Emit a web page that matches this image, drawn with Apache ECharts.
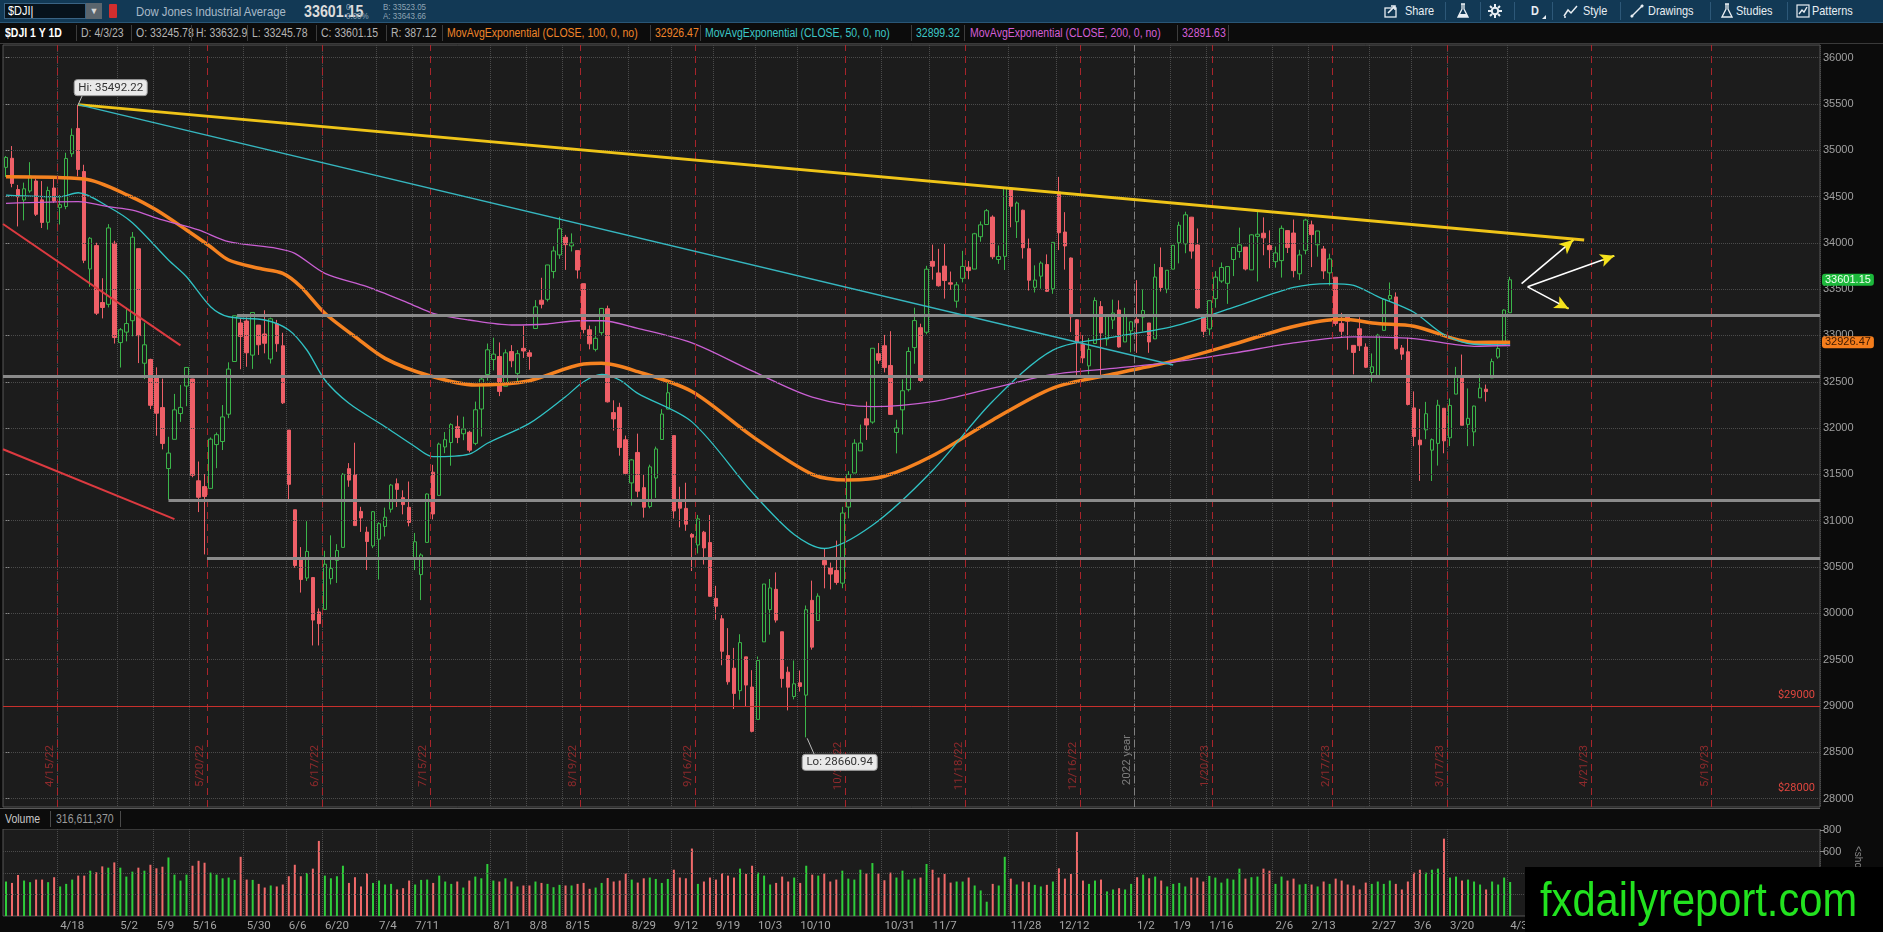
<!DOCTYPE html>
<html>
<head>
<meta charset="utf-8">
<title>$DJI 1 Y 1D</title>
<script src="https://cdn.jsdelivr.net/npm/echarts@6.0.0/dist/echarts.min.js"></script>
<style>
  html, body { margin: 0; padding: 0; width: 1883px; height: 932px; overflow: hidden; background: #0b0b0b; }
  body { font-family: "Liberation Sans", Arial, sans-serif; }
  #chart { position: absolute; left: 0; top: 0; width: 1883px; height: 932px; }
  .abs { position: absolute; white-space: nowrap; }
  .n { position: absolute; white-space: nowrap; transform: scaleX(0.84); transform-origin: 0 50%; }
  #toolbar { position: absolute; left: 0; top: 0; width: 1883px; height: 23px; background: #123955; border-bottom: 1px solid #2a5676; box-sizing: border-box; color: #e4ecf2; }
  #toolbar .btn { top: 3px; font-size: 13px; line-height: 16px; color: #e8eef3; }
  #toolbar .sep { position: absolute; top: 2px; width: 1px; height: 18px; background: #2d5878; }
  #header { position: absolute; left: 0; top: 23px; width: 1883px; height: 21px; background: #0c0c0c; border-bottom: 1px solid #3a3a3a; box-sizing: border-box; font-size: 12.5px; line-height: 20px; color: #b4b4b4; }
  #header .sep { position: absolute; top: 2px; width: 1px; height: 16px; background: #3d3d3d; }
  #volhdr { position: absolute; left: 0; top: 808px; width: 1820px; height: 21px; background: #0c0c0c; border-top: 1px solid #5a5a5a; box-sizing: border-box; font-size: 12.5px; line-height: 20px; color: #c8c8c8; }
  #wm { position: absolute; left: 1525px; top: 867px; width: 358px; height: 65px; background: #000; overflow: hidden; }
  #wm span { position: absolute; left: 15px; top: 8px; font-size: 49px; line-height: 49px; color: #22e21f; white-space: nowrap; transform: scaleX(0.85); transform-origin: 0 50%; }
</style>
</head>
<body>
<div id="chart"></div>

<div id="toolbar">
  <div class="abs" style="left:4px;top:3px;width:82px;height:16px;background:#07121b;border:1px solid #3a6383;box-sizing:border-box;"></div>
  <div class="n" style="left:8px;top:3px;font-size:13px;line-height:16px;color:#fff;">$DJI|</div>
  <div class="abs" style="left:86px;top:3px;width:16px;height:16px;background:#5b656d;color:#d8d8d8;font-size:9px;line-height:16px;text-align:center;">&#9660;</div>
  <div class="abs" style="left:109px;top:4px;width:8px;height:14px;background:#d22e2e;border-radius:1px;"></div>
  <div class="n" style="left:136px;top:3px;font-size:13.5px;line-height:17px;color:#a9bac8;">Dow Jones Industrial Average</div>
  <div class="n" style="left:304px;top:1px;font-size:17px;line-height:21px;font-weight:bold;color:#dcdcdc;">33601.15</div>
  <div class="n" style="left:346px;top:2px;font-size:9.5px;line-height:9px;color:#8fa4b4;">0<br>0.00%</div>
  <div class="n" style="left:383px;top:2px;font-size:9.5px;line-height:9px;color:#8fa4b4;">B: 33523.05<br>A: 33643.66</div>

  <svg class="abs" style="left:1384px;top:4px" width="16" height="14" viewBox="0 0 16 14"><rect x="1" y="4" width="11" height="9" fill="none" stroke="#e8eef3" stroke-width="1.3"/><path d="M4 9 L10 3 M7 2 L11 2 L11 6" stroke="#e8eef3" stroke-width="1.6" fill="none"/></svg>
  <div class="n btn" style="left:1405px;">Share</div>
  <div class="sep" style="left:1445px;"></div>
  <svg class="abs" style="left:1457px;top:3px" width="12" height="16" viewBox="0 0 12 16"><path d="M4 1 L8 1 M5 1 L5 6 L1 14 L11 14 L7 6 L7 1" stroke="#e8eef3" stroke-width="1.3" fill="none"/><path d="M2.5 11 L9.5 11 L11 14 L1 14 Z" fill="#e8eef3"/></svg>
  <div class="sep" style="left:1480px;"></div>
  <svg class="abs" style="left:1488px;top:4px" width="14" height="14" viewBox="0 0 14 14"><circle cx="7" cy="7" r="3.2" fill="none" stroke="#e8eef3" stroke-width="2"/><path d="M7 0 L7 3 M7 11 L7 14 M0 7 L3 7 M11 7 L14 7 M2 2 L4 4 M10 10 L12 12 M12 2 L10 4 M4 10 L2 12" stroke="#e8eef3" stroke-width="2"/></svg>
  <div class="sep" style="left:1514px;"></div>
  <div class="n btn" style="left:1531px;font-weight:bold;">D</div>
  <div class="abs" style="left:1542px;top:15px;width:0;height:0;border-left:4px solid transparent;border-bottom:4px solid #e8eef3;"></div>
  <div class="sep" style="left:1552px;"></div>
  <svg class="abs" style="left:1563px;top:4px" width="16" height="14" viewBox="0 0 16 14"><path d="M1 12 L5 6 L8 9 L14 2" stroke="#e8eef3" stroke-width="1.5" fill="none"/><path d="M1 13 L3 13" stroke="#e8eef3" stroke-width="1.5"/></svg>
  <div class="n btn" style="left:1583px;">Style</div>
  <div class="sep" style="left:1620px;"></div>
  <svg class="abs" style="left:1630px;top:4px" width="14" height="14" viewBox="0 0 14 14"><path d="M1 13 L13 1" stroke="#e8eef3" stroke-width="1.5"/><circle cx="2" cy="12" r="1.5" fill="#e8eef3"/><circle cx="12" cy="2" r="1.5" fill="#e8eef3"/></svg>
  <div class="n btn" style="left:1648px;">Drawings</div>
  <div class="sep" style="left:1710px;"></div>
  <svg class="abs" style="left:1721px;top:3px" width="12" height="16" viewBox="0 0 12 16"><path d="M4 1 L8 1 M5 1 L5 6 L1 14 L11 14 L7 6 L7 1" stroke="#e8eef3" stroke-width="1.3" fill="none"/></svg>
  <div class="n btn" style="left:1736px;">Studies</div>
  <div class="sep" style="left:1787px;"></div>
  <svg class="abs" style="left:1796px;top:4px" width="14" height="14" viewBox="0 0 14 14"><rect x="1" y="1" width="12" height="12" fill="none" stroke="#e8eef3" stroke-width="1.2"/><path d="M3 10 L6 6 L8 8 L11 3" stroke="#e8eef3" stroke-width="1.4" fill="none"/></svg>
  <div class="n btn" style="left:1812px;">Patterns</div>
</div>

<div id="header">
  <div class="n" style="left:5px;color:#fff;font-weight:bold;">$DJI 1 Y 1D</div>
  <div class="sep" style="left:76px;"></div>
  <div class="n" style="left:81px;">D: 4/3/23</div>
  <div class="sep" style="left:131px;"></div>
  <div class="n" style="left:136px;">O: 33245.78</div>
  <div class="sep" style="left:191px;"></div>
  <div class="n" style="left:196px;">H: 33632.9</div>
  <div class="sep" style="left:247px;"></div>
  <div class="n" style="left:252px;">L: 33245.78</div>
  <div class="sep" style="left:316px;"></div>
  <div class="n" style="left:321px;">C: 33601.15</div>
  <div class="sep" style="left:386px;"></div>
  <div class="n" style="left:391px;">R: 387.12</div>
  <div class="sep" style="left:442px;"></div>
  <div class="n" style="left:447px;color:#f0852a;">MovAvgExponential (CLOSE, 100, 0, no)</div>
  <div class="sep" style="left:650px;"></div>
  <div class="n" style="left:655px;color:#f0852a;">32926.47</div>
  <div class="sep" style="left:700px;"></div>
  <div class="n" style="left:705px;color:#3cc7c7;">MovAvgExponential (CLOSE, 50, 0, no)</div>
  <div class="sep" style="left:911px;"></div>
  <div class="n" style="left:916px;color:#3cc7c7;">32899.32</div>
  <div class="sep" style="left:964px;"></div>
  <div class="n" style="left:970px;color:#d55fd6;">MovAvgExponential (CLOSE, 200, 0, no)</div>
  <div class="sep" style="left:1177px;"></div>
  <div class="n" style="left:1182px;color:#d55fd6;">32891.63</div>
  <div class="sep" style="left:1228px;"></div>
</div>

<div id="volhdr">
  <div class="n" style="left:5px;">Volume</div>
  <div class="abs" style="left:50px;top:2px;width:1px;height:16px;background:#4a4a4a;"></div>
  <div class="n" style="left:56px;color:#9a9a9a;">316,611,370</div>
  <div class="abs" style="left:120px;top:2px;width:1px;height:16px;background:#4a4a4a;"></div>
</div>
<div class="abs" style="left:1864px;top:846px;font-size:10px;color:#8a8a8a;transform:rotate(90deg);transform-origin:left top;">&lt;sho</div>
<div id="wm"><span>fxdailyreport.com</span></div>

<script>
// trading calendar, 4/4/22 onward (NYSE holidays in range)
const holidays = ['2022-04-15', '2022-05-30', '2022-06-20', '2022-07-04', '2022-09-05', '2022-11-24',
  '2022-12-26', '2023-01-02', '2023-01-16', '2023-02-20', '2023-04-07', '2023-05-29'];
const firstDay = '2022-04-04';
const slotCount = 302;   // 251 sessions + empty space on the right

// daily OHLC, $DJI
const opens = [34815,34913,34576,34463,34560,34668,34464,34222,34592,34380,
  34392,34962,35235,34770,33718,33970,33356,33336,33996,32923,
  33036,33159,33937,32700,32741,32556,32221,31563,31879,32157,
  32454,32530,31431,31368,31349,31822,31855,32150,32719,33135,
  33156,32788,33112,33016,32746,33125,32889,31978,31118,30588,
  30381,30386,30015,30042,30374,30571,30712,31562,31499,31100,
  30877,30728,30800,30938,31124,31399,31249,31144,30600,30418,
  30766,31524,31273,31796,31844,32014,31939,31955,31835,32206,
  32579,32740,32773,32451,32826,32591,32861,32813,33075,33381,
  33390,33690,33870,34060,33967,33916,33559,33062,32850,33030,
  33289,32167,32224,31874,31408,31737,31357,31153,31461,31877,
  32205,31919,31204,31133,30852,30738,30876,30764,30161,29941,
  29544,29408,29165,29530,29204,28855,29692,30040,30259,29801,
  29365,29102,29250,29117,30140,29922,30570,30492,30463,30326,
  31147,31515,31754,32100,32065,32803,32889,32676,31953,32197,
  32415,32869,33084,33035,33800,33675,33749,33569,33370,33617,
  33737,33717,34066,34198,34278,33820,33854,34579,34228,34352,
  33937,33520,33640,33766,33505,34550,34117,33836,33169,32903,
  32672,32913,33312,32960,33166,33275,32930,33050,33175,33198,
  33135,32963,33734,33499,33716,34001,33989,34277,33977,33212,
  33070,33397,33588,33563,33820,33906,33954,33708,34070,34104,
  33970,33797,33808,34132,34106,33666,33920,34194,33979,33934,
  33676,33629,33130,33216,32893,33072,32875,32600,32560,33055,
  33395,33416,32865,32824,32218,31870,31981,31762,31835,32214,
  31895,32367,32540,32040,31959,32327,32420,32542,32767,32900,
  33245.78];
const highs = [34938,35045,34625,34650,34871,34693,34667,34607,34718,34516,
  34973,35235,35492.22,34843,34063,34001,33618,34202,34023,33081,
  33299,34117,33937,33137,32749,32656,32534,31906,32369,32466,
  32657,32532,31639,31503,31899,31952,32249,32710,33215,33188,
  33196,33249,33112,33272,33193,33168,33029,31978,31118,30715,
  30995,30386,30053,30675,30842,30747,31514,31622,31842,31150,
  30935,31105,30983,31141,31397,31456,31328,31423,30868,30648,
  31295,31603,31843,31957,32052,32135,32123,31971,32286,32572,
  32913,32976,32925,32849,32896,32842,33106,32844,33382,33623,
  33763,33963,34281,34086,34102,33916,33559,33107,33101,33297,
  33322,32300,32273,31919,31666,31940,31504,31605,31800,32204,
  32504,31920,31366,31410,30866,31062,30890,31062,30297,29981,
  29840,29627,29774,29530,29386,29534,30316,30371,30442,29801,
  29424,29491,29383,30085,30353,30216,30702,30548,30785,31150,
  31535,31879,32038,32286,32862,32918,33006,33046,32090,32526,
  32873,33300,33127,33752,33981,33935,33988,33690,33578,33914,
  33803,34108,34231,34365,34297,33972,34590,34595,34446,34358,
  34046,33757,33800,33875,34005,34712,34331,33842,33176,33002,
  32972,33411,33371,33227,33387,33379,33299,33153,33597,33497,
  33135,33773,33950,33705,33973,34227,34336,34280,34155,33212,
  33376,33694,33788,33745,33950,34164,33954,34093,34335,34275,
  34135,33960,34187,34132,34252,33925,34260,34240,34128,33966,
  33883,33629,33244,33232,32893,33196,32915,32806,33018,33396,
  33572,33465,32897,32975,32396,32207,32283,31888,32305,32214,
  32320,32661,32794,32428,32242,32580,32470,32750,32942,33282,
  33632.9];
const lows = [34711,34600,34177,34243,34540,34290,34160,34143,34430,34198,
  34363,34928,34718,33781,33525,33221,33184,33303,32913,32654,
  32936,32991,32702,32529,32205,31918,31770,31228,31879,32067,
  32236,31469,31093,30636,31350,31567,31763,32107,32719,32635,
  32662,32639,32790,32807,32697,32824,32260,31212,30493,30224,
  30349,29653,29653,30042,30312,30328,30712,31366,30945,30879,
  30468,30704,30365,30830,31088,31148,31069,30939,30467,30143,
  30766,31014,31273,31729,31594,31837,31869,31738,31815,31909,
  32513,32623,32345,32451,32657,32480,32757,32630,33075,33292,
  33367,33617,33827,33708,33907,33614,33023,32850,32828,33004,
  32276,31973,31702,31491,31163,31253,31033,31134,31246,31877,
  32205,31023,30928,30891,30457,30646,30527,30182,29931,29439,
  29230,28967,29067,28999,28715,28855,29692,29770,29900,29198,
  28952,29071,29155,28660.94,29608,29922,30270,30258,30309,30271,
  31025,31514,31754,31872,32047,32694,32601,32141,31727,31931,
  32395,32695,32499,33012,33603,33527,33398,33493,33299,33573,
  33607,33717,34012,34197,33824,33773,33707,34168,34052,33830,
  33485,33464,33505,33470,33450,33922,33711,33036,32573,32700,
  32581,32913,32574,32889,33069,32869,32930,32818,32812,33043,
  32813,32962,33474,33456,33716,33778,33888,33829,33287,32982,
  32999,33300,33568,33341,33641,33838,33702,33708,33583,33866,
  33726,33732,33625,33890,33627,33600,33876,33738,33850,33610,
  33540,33106,32979,32846,32580,32832,32648,32500,32560,33055,
  33366,32846,32736,32245,31805,31430,31880,31429,31595,31728,
  31806,32367,32030,31805,31805,32327,32286,32542,32749,32900,
  33245.78];
const closes = [34921.88,34641.18,34496.51,34583.57,34721.12,34308.08,34220.36,34564.59,34451.23,34411.69,
  34911.20,35160.79,34792.76,33811.40,34049.46,33240.18,33301.93,34160.78,32977.21,33061.50,
  33128.79,34061.06,32997.97,32899.37,32245.70,32160.74,31834.11,31730.30,32196.66,32223.42,
  32654.59,31490.07,31253.13,31261.90,31880.24,31928.62,32120.28,32637.19,33212.96,32990.12,
  32813.23,33248.28,32899.70,32915.78,33180.14,32910.90,32272.79,31392.79,30516.74,30364.83,
  30668.53,29927.07,29888.78,30530.25,30483.13,30677.36,31500.68,31438.26,30946.99,31029.31,
  30775.43,31097.26,30967.82,31037.68,31384.55,31338.15,31173.84,30981.33,30772.79,30630.17,
  31288.26,31072.61,31827.05,31874.84,32036.90,31899.29,31990.04,31761.54,32197.59,32529.63,
  32845.13,32798.40,32396.17,32812.50,32726.82,32803.47,32832.54,32774.41,33309.51,33336.67,
  33761.05,33912.44,34152.01,33980.32,33999.04,33706.74,33063.61,32909.59,32969.23,33291.78,
  32283.40,32098.99,31790.87,31510.43,31656.42,31318.44,31145.30,31581.28,31774.52,32151.71,
  32381.34,31104.97,31135.09,30961.82,30822.42,31019.68,30706.23,30183.78,30076.68,29590.41,
  29260.81,29134.99,29683.74,29225.61,28725.51,29490.89,30316.32,30273.87,29926.94,29296.79,
  29202.88,29239.19,29210.85,30038.72,29634.83,30185.82,30523.80,30423.81,30333.59,31082.56,
  31499.62,31836.74,31839.11,32033.28,32861.80,32732.95,32653.20,32147.76,32001.25,32403.22,
  32827.00,33160.83,32513.94,33715.37,33747.86,33536.70,33592.92,33553.83,33546.32,33745.69,
  33700.28,34098.10,34194.06,34347.03,33849.46,33852.53,34589.77,34395.01,34429.88,33947.10,
  33596.34,33597.92,33781.48,33476.46,34005.04,34108.64,33966.35,33202.22,32920.46,32757.54,
  32849.74,33376.48,33027.49,33203.93,33241.56,32875.71,33220.80,33147.25,33136.37,33269.77,
  32930.08,33630.61,33517.65,33704.10,33973.01,34189.97,34302.61,33910.85,33296.96,33044.56,
  33375.49,33629.56,33733.96,33743.84,33949.41,33978.08,33717.09,34086.04,34092.96,34053.94,
  33926.01,33891.02,34156.69,33949.01,33699.88,33869.27,34245.93,34089.27,34128.05,33696.85,
  33826.69,33129.59,33045.09,33153.91,32816.92,32889.09,32656.70,32661.84,33003.57,33390.97,
  33431.44,32856.46,32798.40,32254.86,31909.64,31819.14,32155.40,31874.57,32246.55,31861.98,
  32244.58,32560.60,32030.11,32105.25,32237.53,32432.08,32394.25,32717.60,32859.03,33274.15,
  33601.15];
// volume, millions
const volumes = [321,308,382,330,315,339,339,315,361,275,
  299,339,376,376,422,407,462,450,499,450,
  367,413,450,422,477,444,459,545,385,330,
  385,468,514,496,404,385,351,358,336,551,
  339,336,299,265,284,275,293,370,477,370,
  401,441,699,376,351,370,468,308,361,275,
  398,308,330,293,299,247,259,330,293,336,
  339,308,376,321,299,321,265,330,367,351,
  484,330,321,351,321,275,284,284,321,308,
  299,268,290,284,284,299,308,253,265,308,
  354,321,330,398,339,311,351,358,345,308,
  345,431,358,351,628,299,321,358,339,398,
  376,358,441,391,468,404,376,293,308,367,
  321,358,308,468,385,376,395,321,339,422,
  348,339,431,395,493,395,333,404,358,422,
  339,348,358,484,431,358,391,311,321,321,
  358,284,238,133,299,284,551,348,293,321,
  315,290,275,290,321,444,348,391,782,330,
  299,330,339,229,247,259,247,299,361,385,
  351,367,330,275,299,308,275,358,358,321,
  373,358,311,348,339,441,348,361,367,441,
  422,299,367,330,348,293,299,293,275,321,
  299,348,330,293,284,247,311,299,321,299,
  330,299,247,321,404,431,404,431,441,720,
  358,367,330,339,321,293,247,321,293,358,
  316.6];

// moving averages: [session index, value]
const ema100 = [[0,34714],[13,34689],[21,34492],[25,34354],[30,34139],[34,33958],[37,33815],[42,33725],
  [46,33671],[49,33527],[53,33239],[58,32987],[63,32753],[70,32573],[78,32465],[87,32512],[96,32692],
  [99,32699],[105,32609],[114,32395],[124,31913],[134,31501],[140,31440],[146,31480],[154,31701],
  [164,32088],[174,32432],[184,32584],[194,32723],[204,32905],[214,33097],[222,33175],[228,33130],
  [234,33100],[244,32925],[250,32926.47]];
const ema50 = [[0,34516],[9,34498],[12,34541],[17,34390],[21,34218],[27,33815],[30,33634],[34,33311],
  [37,33202],[43,33167],[47,33060],[50,32843],[53,32519],[57,32268],[63,32015],[68,31799],[71,31691],
  [77,31720],[80,31836],[87,32051],[93,32339],[96,32501],[99,32580],[102,32519],[105,32375],[114,32067],
  [124,31308],[131,30850],[136,30700],[144,30950],[154,31542],[164,32290],[174,32842],[184,32981],
  [194,33099],[204,33303],[214,33518],[220,33560],[224,33540],[228,33420],[234,33250],[239,33010],
  [244,32905],[250,32899.32]];
const ema200 = [[0,34427],[12,34444],[17,34390],[21,34354],[26,34247],[32,34139],[37,34012],[45,33941],
  [48,33887],[53,33671],[60,33527],[67,33347],[71,33239],[77,33167],[84,33113],[90,33124],[95,33159],
  [99,33159],[105,33077],[114,32920],[124,32617],[134,32334],[144,32231],[154,32285],[164,32432],
  [174,32579],[184,32645],[194,32712],[204,32809],[214,32919],[224,32984],[234,32965],[244,32883],
  [250,32891.63]];

// date axis: label text and the session slot where the chart puts it
const tickLabels = ['4/18','5/2','5/9','5/16','5/30','6/6','6/20','7/4','7/11','8/1','8/8','8/15','8/29',
  '9/12','9/19','10/3','10/10','10/31','11/7','11/28','12/12','1/2','1/9','1/16','2/6','2/13','2/27',
  '3/6','3/20','4/3'];
const tickSlots = [9,19,25,31,40,47,53,62,68,81,87,93,104,111,118,125,132,146,154,167,175,188,194,200,
  211,217,227,234,240,250];
const priceTicks = [28000,28500,29000,29500,30000,30500,31000,31500,32000,32500,33000,33500,34000,34500,35000,35500,36000];
const volTicks = [200, 400, 600, 800];
const expiries = ['2022-04-15','2022-05-20','2022-06-17','2022-07-15','2022-08-19','2022-09-16','2022-10-21',
  '2022-11-18','2022-12-16','2023-01-20','2023-02-17','2023-03-17','2023-04-21','2023-05-19'];

// hand drawings: [from index, from price, to index, to price]
const supportLevels = [33220, 32555, 31222, 30600];
const supportFrom = [38.4, -0.5, 27, 33.4];
const trendLines = [[12, 35492.22, 262.3, 34030], [12, 35492.22, 194, 32680],
  [-0.5, 34203, 29, 32893], [-0.5, 31772, 28, 31017]];
const arrows = [[251.9, 33560, 260.5, 34030], [252.9, 33525, 267.3, 33860], [252.9, 33525, 259.7, 33290]];
const priceLevels = [29000, 28000];

const NARROW = 'Roboto, "Liberation Sans", sans-serif';

function tradingDays(start, count) {
  const out = [];
  const d = new Date(start + 'T12:00:00Z');
  while (out.length < count) {
    const dow = d.getUTCDay();
    const iso = d.toISOString().slice(0, 10);
    if (dow !== 0 && dow !== 6 && holidays.indexOf(iso) < 0) out.push(iso);
    d.setUTCDate(d.getUTCDate() + 1);
  }
  return out;
}
const days = tradingDays(firstDay, slotCount);
const mdy = s => { const p = s.split('-'); return (+p[1]) + '/' + (+p[2]) + '/' + p[0].slice(2); };
const dates = days.map(mdy);
const lastOnOrBefore = iso => { let k = -1; days.forEach((d, i) => { if (d <= iso) k = i; }); return k; };

const tickText = {};
tickSlots.forEach((s, i) => { tickText[s] = tickLabels[i]; });
const isTick = i => tickText[i] !== undefined;

const candles = closes.map((c, i) => [opens[i], c, lows[i], highs[i]]);
const volData = volumes.map((v, i) => ({
  value: v,
  itemStyle: { color: closes[i] >= opens[i] ? '#2fcd3b' : '#f06a6a' }
}));

const lastSlot = slotCount - 0.5;
const clear = 'rgba(0,0,0,0)';
const expiryX = e => lastOnOrBefore(e) + 0.5;
const yearX = lastOnOrBefore('2022-12-31') + 0.5;

// background marks: dotted price grid, expiration and year lines, price level labels, axis tags
const gridMarks = priceTicks.map(v => ({ yAxis: v }))
  .concat(expiries.map(e => ({ xAxis: expiryX(e), lineStyle: { color: '#a8242b', type: [7, 5], width: 1 } })))
  .concat([{ xAxis: yearX, lineStyle: { color: '#808080', type: [7, 5], width: 1 } }])
  .concat(priceLevels.map((p, i) => ({
    yAxis: p,
    lineStyle: { color: i === 0 ? '#c8302c' : clear, type: 'solid', width: 1 },
    label: { show: true, position: 'insideEndTop', formatter: '$' + p, color: '#e0463f', fontSize: 11, fontFamily: NARROW }
  })))
  .concat([
    { yAxis: closes[closes.length - 1], lineStyle: { color: clear },
      label: { show: true, position: 'end', distance: 2, formatter: closes[closes.length - 1].toFixed(2),
        backgroundColor: '#1cb83b', color: '#f0fff0', padding: [1, 3, 0, 3], borderRadius: 3, fontSize: 11, fontFamily: 'Liberation Sans' } },
    { yAxis: ema100[ema100.length - 1][1], lineStyle: { color: clear },
      label: { show: true, position: 'end', distance: 2, formatter: ema100[ema100.length - 1][1].toFixed(2),
        backgroundColor: '#f47d1c', color: '#3a1800', padding: [1, 3, 0, 3], borderRadius: 3, fontSize: 11, fontFamily: 'Liberation Sans' } }
  ]);

const supportMarks = supportLevels.map((v, i) => [
  { coord: [supportFrom[i], v], lineStyle: { color: '#8a8a8a', width: 3, type: 'solid' } },
  { coord: [lastSlot, v] }
]);

const trendColors = ['#efc418', '#36b6bf', '#dc3a40', '#dc3a40'];
const trendWidths = [3, 1.5, 2, 2];
const trendMarks = trendLines.map((t, i) => [
  { coord: [t[0], t[1]], lineStyle: { color: trendColors[i], width: trendWidths[i], type: 'solid' } },
  { coord: [t[2], t[3]] }
]);

const arrowMarks = [];
arrows.forEach(a => {
  arrowMarks.push([
    { coord: [a[0], a[1]], symbol: 'none', lineStyle: { color: '#ffffff', width: 1.6, type: 'solid' } },
    { coord: [a[2], a[3]], symbol: 'none' }
  ]);
  const hx = a[0] + (a[2] - a[0]) * 0.86, hy = a[1] + (a[3] - a[1]) * 0.86;
  arrowMarks.push([
    { coord: [hx, hy], symbol: 'none', lineStyle: { color: '#f5e21c', width: 1.8, type: 'solid' } },
    { coord: [a[2], a[3]], symbol: 'arrow', symbolSize: [10, 14] }
  ]);
});

const dotted = { color: '#4b4b4b', type: 'dotted', width: 1 };

const chart = echarts.init(document.getElementById('chart'));
const option = {
  backgroundColor: '#0b0b0b',
  animation: false,
  grid: [
    { left: 3, right: 63, top: 45, height: 762, show: true, backgroundColor: '#1c1c1c', borderColor: '#565656', borderWidth: 1 },
    { left: 3, right: 63, top: 829, height: 87, show: true, backgroundColor: '#1c1c1c', borderColor: '#565656', borderWidth: 1 }
  ],
  xAxis: [
    { type: 'category', gridIndex: 0, data: dates, axisLine: { show: false }, axisTick: { show: false },
      axisLabel: { show: false }, splitLine: { show: true, interval: isTick, lineStyle: dotted } },
    { type: 'value', gridIndex: 0, min: -0.5, max: lastSlot, show: false },
    { type: 'category', gridIndex: 1, data: dates, axisLine: { show: false }, axisTick: { show: false },
      axisLabel: { interval: isTick, formatter: (v, i) => tickText[i] || '', align: 'left', margin: 4,
        color: '#a5a5a5', fontSize: 11.5, fontFamily: NARROW },
      splitLine: { show: true, interval: isTick, lineStyle: dotted } }
  ],
  yAxis: [
    { type: 'value', gridIndex: 0, position: 'right', min: 27909, max: 36136,
      splitLine: { show: false }, axisLine: { show: false },
      axisTick: { show: true, length: 4, customValues: priceTicks, lineStyle: { color: '#8a8a8a' } },
      axisLabel: { customValues: priceTicks, formatter: v => String(v), color: '#a0a0a0', fontSize: 11,
        fontFamily: 'Liberation Sans', margin: 3 } },
    { type: 'value', gridIndex: 1, position: 'right', min: 0, max: 810,
      splitLine: { show: false }, axisLine: { show: false },
      axisTick: { show: true, length: 4, customValues: volTicks, lineStyle: { color: '#8a8a8a' } },
      axisLabel: { customValues: volTicks, formatter: v => String(v), color: '#a0a0a0', fontSize: 11,
        fontFamily: 'Liberation Sans', margin: 3 } }
  ],
  series: [
    { type: 'line', xAxisIndex: 1, yAxisIndex: 0, data: [[-0.5, 30000]], symbol: 'none', lineStyle: { opacity: 0 },
      silent: true, z: 1,
      markLine: { silent: true, symbol: ['none', 'none'], animation: false, label: { show: false },
        lineStyle: dotted, data: gridMarks } },
    { type: 'candlestick', xAxisIndex: 0, yAxisIndex: 0, data: candles, barWidth: 4, z: 2, silent: true,
      itemStyle: { color: '#1c1c1c', color0: '#ee5f67', borderColor: '#3bb54a', borderColor0: '#ee5f67', borderWidth: 1 } },
    { type: 'line', xAxisIndex: 1, yAxisIndex: 0, data: [[-0.5, 30000]], symbol: 'none', lineStyle: { opacity: 0 },
      silent: true, z: 3,
      markLine: { silent: true, symbol: ['none', 'none'], animation: false, label: { show: false }, data: supportMarks } },
    { name: 'EMA100', type: 'line', xAxisIndex: 1, yAxisIndex: 0, data: ema100, smooth: 0.3, showSymbol: false,
      silent: true, z: 4, lineStyle: { color: '#f58220', width: 3.5 } },
    { name: 'EMA50', type: 'line', xAxisIndex: 1, yAxisIndex: 0, data: ema50, smooth: 0.3, showSymbol: false,
      silent: true, z: 4, lineStyle: { color: '#30c2c4', width: 1.3 } },
    { name: 'EMA200', type: 'line', xAxisIndex: 1, yAxisIndex: 0, data: ema200, smooth: 0.3, showSymbol: false,
      silent: true, z: 4, lineStyle: { color: '#c95fd2', width: 1.3 } },
    { type: 'line', xAxisIndex: 1, yAxisIndex: 0, data: [[-0.5, 30000]], symbol: 'none', lineStyle: { opacity: 0 },
      silent: true, z: 5,
      markLine: { silent: true, symbol: ['none', 'none'], animation: false, label: { show: false }, data: trendMarks } },
    { type: 'line', xAxisIndex: 1, yAxisIndex: 0, data: [[-0.5, 30000]], symbol: 'none', lineStyle: { opacity: 0 },
      silent: true, z: 6,
      markLine: { silent: true, symbol: ['none', 'none'], animation: false, label: { show: false }, data: arrowMarks } },
    { name: 'Volume', type: 'bar', xAxisIndex: 2, yAxisIndex: 1, data: volData, barWidth: 2, silent: true, z: 2,
      markLine: { silent: true, symbol: ['none', 'none'], animation: false, label: { show: false },
        lineStyle: dotted, data: volTicks.slice(0, 3).map(v => ({ yAxis: v })) } }
  ]
};
chart.setOption(option);

// callouts and rotated expiration labels, placed through the chart's own scales
const P = (x, y) => chart.convertToPixel({ seriesIndex: 0 }, [x, y]);
const paneBottom = P(0, 27909)[1];
const graphics = [];
expiries.forEach(e => {
  const px = P(expiryX(e), 30000)[0];
  graphics.push({ type: 'text', x: px - 7, y: paneBottom - 41, rotation: Math.PI / 2, z: 10, silent: true,
    style: { text: mdy(e), fill: '#8e2a2c', fontSize: 11.5, fontFamily: NARROW, align: 'center', verticalAlign: 'middle' } });
});
const yx = P(yearX, 30000)[0];
graphics.push({ type: 'text', x: yx - 7, y: paneBottom - 47, rotation: Math.PI / 2, z: 10, silent: true,
  style: { text: '2022 year', fill: '#7c7c7c', fontSize: 11.5, fontFamily: NARROW, align: 'center', verticalAlign: 'middle' } });

let hiI = 0, loI = 0;
highs.forEach((h, i) => { if (h > highs[hiI]) hiI = i; });
lows.forEach((l, i) => { if (l < lows[loI]) loI = i; });
const hp = P(hiI, highs[hiI]);
const lp = P(loI, lows[loI]);
const hiText = 'Hi: ' + highs[hiI].toFixed(2);
const loText = 'Lo: ' + lows[loI].toFixed(2);
graphics.push(
  { type: 'line', z: 20, silent: true, shape: { x1: hp[0], y1: hp[1], x2: hp[0] + 4, y2: hp[1] - 9 }, style: { stroke: '#bdbdbd', lineWidth: 1 } },
  { type: 'rect', z: 20, silent: true, shape: { x: hp[0] - 4, y: hp[1] - 25, width: 73, height: 16, r: 3 }, style: { fill: '#e9e9e9', stroke: '#9c9c9c', lineWidth: 1 } },
  { type: 'text', z: 21, silent: true, x: hp[0] + 32.5, y: hp[1] - 17, style: { text: hiText, fill: '#333', fontSize: 11.5, fontFamily: NARROW, align: 'center', verticalAlign: 'middle' } },
  { type: 'line', z: 20, silent: true, shape: { x1: lp[0] + 1, y1: lp[1] + 1, x2: lp[0] + 8, y2: lp[1] + 17 }, style: { stroke: '#bdbdbd', lineWidth: 1 } },
  { type: 'rect', z: 20, silent: true, shape: { x: lp[0] - 4, y: lp[1] + 17, width: 75, height: 16, r: 3 }, style: { fill: '#e9e9e9', stroke: '#9c9c9c', lineWidth: 1 } },
  { type: 'text', z: 21, silent: true, x: lp[0] + 33.5, y: lp[1] + 25, style: { text: loText, fill: '#333', fontSize: 11.5, fontFamily: NARROW, align: 'center', verticalAlign: 'middle' } }
);
chart.setOption({ graphic: graphics });
</script>
</body>
</html>
